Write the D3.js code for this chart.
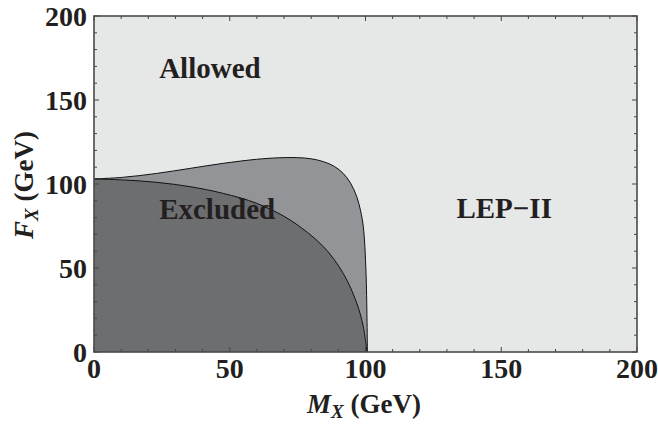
<!DOCTYPE html>
<html><head><meta charset="utf-8">
<script src="https://cdn.jsdelivr.net/npm/d3@7"></script>
</head><body style="margin:0"><svg id="c" width="658" height="429" style="display:block"></svg>
<script>
// Upper boundary (LEP-II exclusion, light-grey/mid-grey edge): [M_X, F_X]
const upperM = [0, 10.8, 23.1, 35.4, 47.6, 59.9, 68, 74.7, 80, 84.5, 88.5, 91.8, 94.5, 96.8, 98.2, 99.2, 100.2, 100.7];
const upperF = [103, 104, 106.3, 109.3, 112.3, 114.7, 115.6, 115.7, 115, 113.3, 110.5, 106.3, 100.5, 92.4, 84, 74.6, 46.8, 0];
// Lower boundary (dark region edge)
const lowerM = [0, 10.8, 23.1, 35.4, 47.6, 59.9, 72.2, 84.5, 91.8, 96.8, 99.2, 100.5];
const lowerF = [103, 102.4, 101, 98.4, 94.4, 88.5, 78.6, 62.7, 46.8, 29, 15, 0];
const xTicks = [0, 50, 100, 150, 200];
const yTicks = [0, 50, 100, 150, 200];
const minorTicks = d3.range(0, 201, 10);
const labels = [
  {text: "Allowed", m: 24, f: 163},
  {text: "Excluded", m: 24, f: 79},
  {text: "LEP\u2212II", m: 133.5, f: 79.5}
];

const svg = d3.select("#c");
const L = 94, R = 637, T = 16, B = 352;
const x = d3.scaleLinear().domain([0, 200]).range([L, R]);
const y = d3.scaleLinear().domain([0, 200]).range([B, T]);

svg.append("rect").attr("x", L).attr("y", T).attr("width", R - L).attr("height", B - T).attr("fill", "#e6e7e7");

const up = upperM.map((m, i) => [m, upperF[i]]);
const lo = lowerM.map((m, i) => [m, lowerF[i]]);
const line = d3.line().x(d => x(d[0])).y(d => y(d[1])).curve(d3.curveCatmullRom.alpha(0.5));

const upPath = line(up);
const loPath = line(lo);
svg.append("path").attr("d", upPath + `L${x(0)},${y(0)}Z`).attr("fill", "#939497");
svg.append("path").attr("d", loPath + `L${x(0)},${y(0)}Z`).attr("fill", "#6d6e70");
svg.append("path").attr("d", upPath).attr("fill", "none").attr("stroke", "#111").attr("stroke-width", 1);
svg.append("path").attr("d", loPath).attr("fill", "none").attr("stroke", "#111").attr("stroke-width", 1);

// ticks inward on all four sides
const tk = svg.append("g").attr("stroke", "#444").attr("stroke-width", 1);
minorTicks.forEach(v => {
  const len = v % 50 === 0 ? 5 : 3;
  tk.append("line").attr("x1", x(v)).attr("x2", x(v)).attr("y1", B).attr("y2", B - len);
  tk.append("line").attr("x1", x(v)).attr("x2", x(v)).attr("y1", T).attr("y2", T + len);
  tk.append("line").attr("y1", y(v)).attr("y2", y(v)).attr("x1", L).attr("x2", L + len);
  tk.append("line").attr("y1", y(v)).attr("y2", y(v)).attr("x1", R).attr("x2", R - len);
});
svg.append("rect").attr("x", L).attr("y", T).attr("width", R - L).attr("height", B - T)
  .attr("fill", "none").attr("stroke", "#4a4a4a").attr("stroke-width", 1.6);

const ink = "#231f20";
function txt(sel, size) {
  return sel.attr("font-family", "Times New Roman")
    .style("font-family", "'Liberation Serif', 'Times New Roman', Times, serif")
    .style("font-weight", "700").style("font-size", size + "px").attr("fill", ink);
}
txt(svg.selectAll(".xt").data(xTicks).join("text").attr("class", "xt")
  .attr("x", d => x(d)).attr("y", 378).attr("text-anchor", "middle"), 28).text(d => d);
txt(svg.selectAll(".yt").data(yTicks).join("text").attr("class", "yt")
  .attr("x", 87).attr("y", d => y(d) + 9.5).attr("text-anchor", "end"), 28).text(d => d);

txt(svg.selectAll(".lab").data(labels).join("text").attr("class", "lab")
  .attr("x", d => x(d.m)).attr("y", d => y(d.f)), 29).text(d => d.text);

const xl = txt(svg.append("text").attr("x", 364).attr("y", 413).attr("text-anchor", "middle"), 27);
xl.append("tspan").style("font-style", "italic").text("M");
xl.append("tspan").style("font-style", "italic").style("font-size", "19px").attr("dy", 5).text("X");
xl.append("tspan").attr("dy", -5).text(" (GeV)");

const yl = txt(svg.append("text").attr("transform", "translate(33,185) rotate(-90)").attr("text-anchor", "middle"), 27);
yl.append("tspan").style("font-style", "italic").text("F");
yl.append("tspan").style("font-style", "italic").style("font-size", "19px").attr("dy", 5).text("X");
yl.append("tspan").attr("dy", -5).text(" (GeV)");
</script></body></html>
